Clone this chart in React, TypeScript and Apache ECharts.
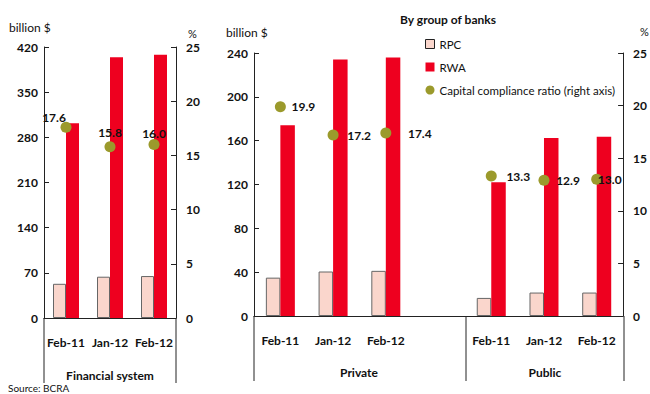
import React, { useEffect, useRef } from "react";
import * as echarts from "echarts";

// Financial system totals (billion $ and %)
const months = ["Feb-11", "Jan-12", "Feb-12"];
const systemRPC = [53, 64, 65];
const systemRWA = [302, 404, 408];
const systemRatio = [17.6, 15.8, 16.0];

// By group of banks
const privateRPC = [35, 40.6, 41.2];
const privateRWA = [174, 234, 236];
const privateRatio = [19.9, 17.2, 17.4];
const publicRPC = [16.5, 21.4, 21.4];
const publicRWA = [122, 162.5, 163.5];
const publicRatio = [13.3, 12.9, 13.0];

const leftTicks = { min: 0, max: 420, interval: 70 };
const groupTicks = { min: 0, max: 240, interval: 40 };
const ratioTicks = { min: 0, max: 25, interval: 5 };

const FONT = "Lato, 'Open Sans', sans-serif";
const RPC_COLOR = "#fad6cc";
const RWA_COLOR = "#ee001f";
const DOT_COLOR = "#9b9a2c";

export default function App() {
  const ref = useRef<HTMLDivElement>(null);

  useEffect(() => {
    if (!ref.current) return;
    const chart = echarts.init(ref.current, undefined, { renderer: "svg" });

    // group axis: private months, an empty slot, public months
    const groupCats = [
      ...months.map((m) => "pr|" + m),
      "gap|",
      ...months.map((m) => "pu|" + m),
    ];
    const gapJoin = (a: number[], b: number[]) => [...a, "-", ...b];

    const systemLabelOffsets = [
      [-12, -10],
      [0, -14],
      [0, -11],
    ];
    const groupLabelOffsets = [
      [23, 0],
      [26, 0],
      [34, 1],
      [0, 0],
      [27, 0],
      [24, 0],
      [13, 0],
    ];

    const ratioItems = (vals: (number | string)[], offsets: number[][]) =>
      vals.map((v, i) =>
        v === "-"
          ? "-"
          : {
              value: v,
              label: { offset: offsets[i] },
            }
      );

    const axisLine = { show: true, lineStyle: { color: "#222", width: 1 } };
    const tickLabel = {
      fontFamily: FONT,
      fontWeight: "bold" as const,
      fontSize: 12,
      color: "#111",
    };

    const valueAxis = (grid: number, ticks: any, pos: "left" | "right") => ({
      type: "value",
      gridIndex: grid,
      position: pos,
      min: ticks.min,
      max: ticks.max,
      interval: ticks.interval,
      axisLine,
      axisTick: { show: true, inside: true, length: 5, lineStyle: { color: "#222" } },
      axisLabel: { ...tickLabel, margin: pos === "left" ? 6 : 10 },
      splitLine: { show: false },
    });

    const barSeries = (
      name: string,
      data: any[],
      grid: number,
      color: string,
      width: number,
      border: boolean
    ) => ({
      name,
      type: "bar",
      xAxisIndex: grid,
      yAxisIndex: grid * 2,
      data,
      barWidth: width,
      barGap: "0%",
      itemStyle: border
        ? { color, borderColor: "#666", borderWidth: 1 }
        : { color },
    });

    const ratioLabel = {
      show: true,
      position: "inside",
      fontFamily: FONT,
      fontWeight: "bold",
      fontSize: 12,
      color: "#111",
      formatter: (p: any) => Number(p.value).toFixed(1),
    };

    const ratioName = "Capital compliance ratio (right axis)";

    const vline = (x: number, y1: number, y2: number) => ({
      type: "line",
      shape: { x1: x, y1, x2: x, y2 },
      style: { stroke: "#222", lineWidth: 1 },
    });
    const txt = (
      x: number,
      y: number,
      text: string,
      opts: any = {}
    ) => ({
      type: "text",
      x,
      y,
      style: {
        text,
        fontFamily: FONT,
        fontSize: 12,
        fill: "#111",
        textVerticalAlign: "middle",
        ...opts,
      },
    });

    chart.setOption({
      animation: false,
      backgroundColor: "#fff",
      grid: [
        { left: 44, top: 47, width: 132, height: 271 },
        { left: 254, top: 53, width: 370, height: 263 },
      ],
      legend: {
        left: 420,
        top: 32,
        orient: "vertical",
        itemWidth: 9,
        itemHeight: 9,
        itemGap: 9,
        textStyle: { fontFamily: FONT, fontSize: 11.5, color: "#111", lineHeight: 14 },
        data: [
          { name: "RPC", icon: "rect", itemStyle: { color: RPC_COLOR, borderColor: "#222", borderWidth: 1 } },
          { name: "RWA", icon: "rect" },
          { name: ratioName, icon: "circle" },
        ],
      },
      xAxis: [
        {
          type: "category",
          gridIndex: 0,
          data: months,
          axisLine,
          axisTick: { show: false },
          axisLabel: { ...tickLabel, margin: 18, interval: 0, hideOverlap: false },
        },
        {
          type: "category",
          gridIndex: 1,
          data: groupCats,
          axisLine,
          axisTick: { show: false },
          axisLabel: {
            ...tickLabel,
            margin: 18,
            interval: 0,
            hideOverlap: false,
            formatter: (v: string) => v.split("|")[1],
          },
        },
      ],
      yAxis: [
        valueAxis(0, leftTicks, "left"),
        valueAxis(0, ratioTicks, "right"),
        valueAxis(1, groupTicks, "left"),
        valueAxis(1, ratioTicks, "right"),
      ],
      series: [
        barSeries("RPC", systemRPC, 0, RPC_COLOR, 13, true),
        barSeries("RWA", systemRWA, 0, RWA_COLOR, 13, false),
        {
          name: ratioName,
          type: "scatter",
          xAxisIndex: 0,
          yAxisIndex: 1,
          symbolSize: 11,
          itemStyle: { color: DOT_COLOR, opacity: 1 },
          label: ratioLabel,
          data: ratioItems(systemRatio, systemLabelOffsets),
          z: 5,
        },
        barSeries("RPC", gapJoin(privateRPC, publicRPC), 1, RPC_COLOR, 14.5, true),
        barSeries("RWA", gapJoin(privateRWA, publicRWA), 1, RWA_COLOR, 14.5, false),
        {
          name: ratioName,
          type: "scatter",
          xAxisIndex: 1,
          yAxisIndex: 3,
          symbolSize: 11,
          itemStyle: { color: DOT_COLOR, opacity: 1 },
          label: ratioLabel,
          data: ratioItems(gapJoin(privateRatio, publicRatio), groupLabelOffsets),
          z: 5,
        },
      ],
      graphic: [
        vline(44, 318, 383),
        vline(176, 318, 383),
        vline(254, 316, 381),
        vline(466, 316, 381),
        vline(624, 316, 381),
        txt(9, 27, "billion $"),
        txt(188, 33, "%", { fontSize: 11 }),
        txt(226, 32, "billion $"),
        txt(640, 31, "%", { fontSize: 11 }),
        txt(448, 19, "By group of banks", { fontWeight: "bold", textAlign: "center" }),
        txt(110, 375, "Financial system", { fontWeight: "bold", textAlign: "center" }),
        txt(359, 372, "Private", { fontWeight: "bold", textAlign: "center" }),
        txt(545, 372, "Public", { fontWeight: "bold", textAlign: "center" }),
        txt(8, 388, "Source: BCRA", { fontSize: 10 }),
      ],
    });

    return () => chart.dispose();
  }, []);

  return (
    <div
      ref={ref}
      style={{ position: "fixed", left: 0, top: 0, width: 650, height: 394 }}
    />
  );
}
